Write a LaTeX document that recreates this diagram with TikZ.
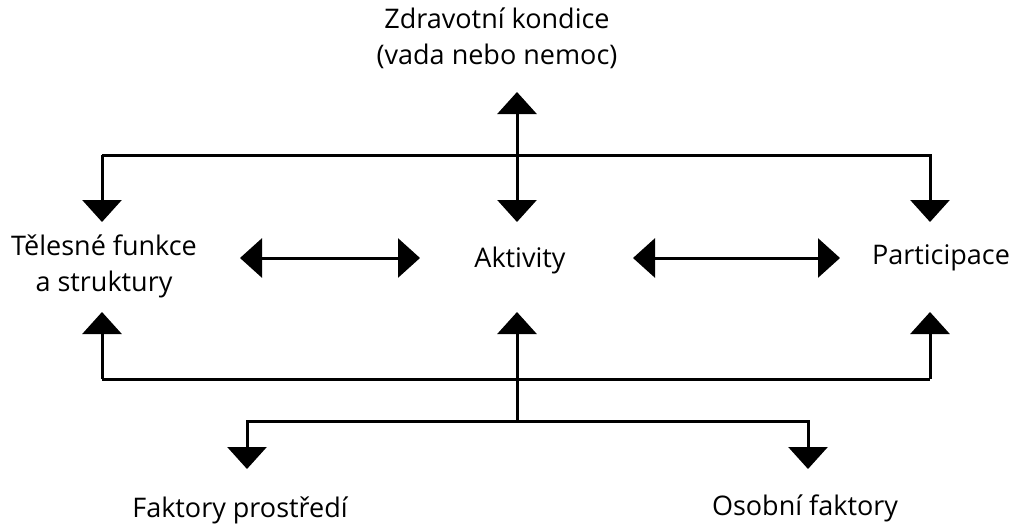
\documentclass[tikz,border=0pt]{standalone}
\usepackage{fontspec}
\setmainfont{Open Sans}
\usetikzlibrary{arrows.meta}
\begin{document}
\begin{tikzpicture}[x=1pt,y=-1pt,
  lbl/.style={font=\fontsize{27}{36}\selectfont, align=center, inner sep=0pt, text=black},
  conn/.style={line width=3pt, draw=black},
  head/.style={-{Triangle[width=39pt,length=22pt]}},
  dhead/.style={{Triangle[width=39pt,length=22pt]}-{Triangle[width=39pt,length=22pt]}}]
\useasboundingbox (0,0) rectangle (1016,527);
\node[lbl] (zk) at (497,38) {Zdravotní kondice\\(vada nebo nemoc)};
\node[lbl] (tf) at (104,266) {Tělesné funkce\\a struktury};
\node[lbl] (akt) at (520,260) {Aktivity};
\node[lbl] (par) at (941,258) {Participace};
\node[lbl] (fp) at (240,510) {Faktory prostředí};
\node[lbl] (of) at (805,508) {Osobní faktory};
% coordinates
\coordinate (zkb) at (517,92);
\coordinate (aktt) at (517,222);
\coordinate (tl) at (102,155);
\coordinate (tr) at (930,155);
\coordinate (tft) at (102,222);
\coordinate (part) at (930,222);
\coordinate (tfr) at (240,258);
\coordinate (aktl) at (420,258);
\coordinate (aktr) at (633,258);
\coordinate (parl) at (840,258);
\coordinate (tfb) at (102,312);
\coordinate (aktb) at (517,312);
\coordinate (parb) at (930,312);
\coordinate (bl) at (102,379);
\coordinate (br) at (930,379);
\coordinate (fj) at (517,421);
\coordinate (fpt) at (247,469);
\coordinate (oft) at (808,469);
% top
\draw[conn,dhead] (zkb) -- (aktt);
\draw[conn,head] (tl) -- (tr) -- (part);
\draw[conn,head] (tl) -- (tft);
% horizontal
\draw[conn,dhead] (tfr) -- (aktl);
\draw[conn,dhead] (aktr) -- (parl);
% bottom
\draw[conn,head] (bl) -- (tfb);
\draw[conn,head] (br) -- (parb);
\draw[conn] (bl) -- (br);
\draw[conn,head] (fj) -- (aktb);
\draw[conn,head] (fj) -| (fpt);
\draw[conn,head] (fj) -| (oft);
\end{tikzpicture}
\end{document}
